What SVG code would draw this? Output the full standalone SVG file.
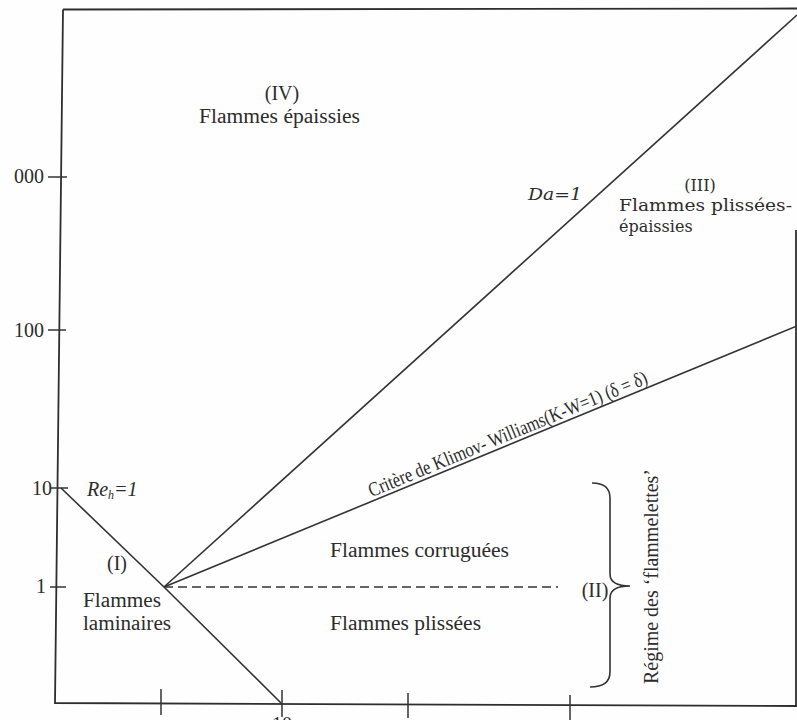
<svg xmlns="http://www.w3.org/2000/svg" width="797" height="720" viewBox="0 0 797 720">
<style>
.ln{stroke:#333;stroke-width:1.6;fill:none;stroke-linecap:butt}
.ax{stroke:#2e2e2e;stroke-width:1.8;fill:none}
.tk{stroke:#333;stroke-width:1.5}
.t{font-family:"Liberation Serif","Times New Roman",serif;font-size:20px;fill:#2c2c2c}
.p{font-family:"DejaVu Serif","Liberation Serif",serif;font-size:16px;fill:#2c2c2c}
.it{font-style:italic}
</style>
<rect x="0" y="0" width="797" height="720" fill="#fefefe"/>
<g id="axes">
<path class="ax" d="M63,9.5 L797,8.5"/>
<path class="ax" d="M63,9.5 L55,703 L797,706"/>
<path class="ax" d="M796,230 L796,706" stroke-width="1.2"/>
<line class="tk" x1="48" y1="177" x2="67" y2="177"/>
<line class="tk" x1="48" y1="330" x2="66" y2="330"/>
<line class="tk" x1="50" y1="488" x2="68" y2="488"/>
<line class="tk" x1="50" y1="587" x2="66" y2="587"/>
<line class="tk" x1="161" y1="689" x2="161" y2="715"/>
<line class="tk" x1="282" y1="690" x2="282" y2="717"/>
<line class="tk" x1="408" y1="693" x2="408" y2="718"/>
<line class="tk" x1="570" y1="695" x2="570" y2="720"/>
<text class="t" x="44" y="183" text-anchor="end" font-size="19">000</text>
<text class="t" x="44" y="337" text-anchor="end" font-size="19">100</text>
<text class="t" x="52" y="495" text-anchor="end" font-size="19">10</text>
<text class="t" x="46" y="593" text-anchor="end" font-size="19">1</text>
<text class="t" x="282" y="731" text-anchor="middle" font-size="19">10</text>
</g>
<g id="connectors">
<path id="reh1" class="ln" d="M61,488 L164,587 L281,703"/>
<path id="da1" class="ln" d="M164,587 L797,15"/>
<path id="kw" class="ln" d="M164,587 L797,326"/>
<path id="dash" class="ln" d="M164,587 L558,587" stroke-dasharray="9 5"/>
<path id="brace" class="ln" d="M592,483 C604,483 610,488 610,498 L610,574 C610,582 616,586 630,586 C616,586 610,590 610,598 L610,672 C610,682 604,687 590,687"/>
</g>
<g id="region-IV">
<text class="t" x="282" y="100" text-anchor="middle">(IV)</text>
<text class="t" x="199" y="123" textLength="161" lengthAdjust="spacingAndGlyphs">Flammes épaissies</text>
</g>
<g id="region-III">
<text class="p" x="700" y="191" text-anchor="middle">(III)</text>
<text class="p" x="619" y="211" textLength="173" lengthAdjust="spacingAndGlyphs">Flammes plissées-</text>
<text class="p" x="619" y="232">épaissies</text>
</g>
<g id="label-da">
<text class="p it" x="528" y="200" font-size="20" textLength="54" lengthAdjust="spacingAndGlyphs">Da=1</text>
</g>
<g id="label-kw">
<text class="t" transform="translate(371.5,497.2) rotate(-22.4)" font-size="13" textLength="300" lengthAdjust="spacingAndGlyphs">Critère de Klimov- Williams(K-W=1) (δ = δ)</text>
</g>
<g id="label-reh">
<text class="t it" x="87" y="496" font-size="17">Re<tspan font-size="12" dy="3">h</tspan><tspan dy="-3">=1</tspan></text>
</g>
<g id="region-I">
<text class="t" x="117" y="570" text-anchor="middle">(I)</text>
<text class="t" x="83" y="607" textLength="78" lengthAdjust="spacingAndGlyphs">Flammes</text>
<text class="t" x="83" y="630" textLength="88" lengthAdjust="spacingAndGlyphs">laminaires</text>
</g>
<g id="region-II">
<text class="t" x="330" y="557" textLength="179" lengthAdjust="spacingAndGlyphs">Flammes corruguées</text>
<text class="t" x="330" y="630" textLength="151" lengthAdjust="spacingAndGlyphs">Flammes plissées</text>
<text class="t" x="595" y="597" text-anchor="middle">(II)</text>
<text class="t" transform="translate(658,684) rotate(-90)" textLength="215" lengthAdjust="spacingAndGlyphs">Régime des ‘flammelettes’</text>
</g>
</svg>
